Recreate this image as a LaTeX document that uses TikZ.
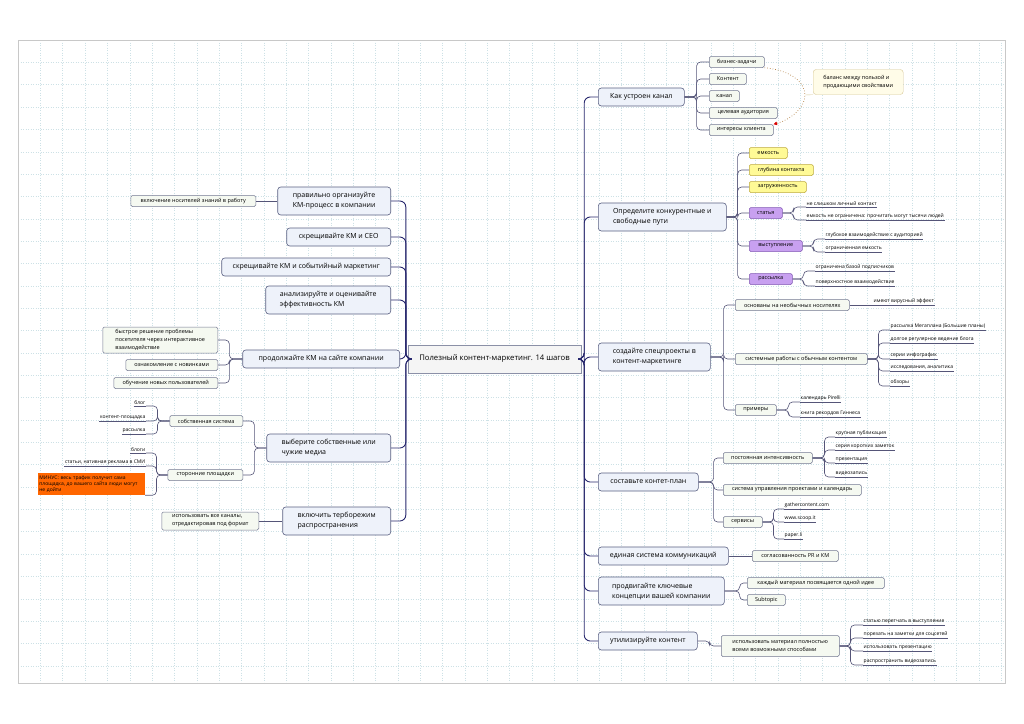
\documentclass[tikz,border=0pt]{standalone}
\usepackage{fontspec}
\setmainfont{Open Sans}
\usetikzlibrary{arrows.meta, positioning}
\definecolor{topicfill}{RGB}{238, 242, 250}
\definecolor{topicline}{RGB}{90, 96, 130}
\definecolor{subfill}{RGB}{245, 249, 241}
\definecolor{subline}{RGB}{115, 120, 145}
\definecolor{trunkcol}{RGB}{40, 40, 110}
\definecolor{conncol}{RGB}{85, 85, 120}
\definecolor{yelfill}{RGB}{255, 250, 150}
\definecolor{yelline}{RGB}{190, 170, 60}
\definecolor{purpfill}{RGB}{200, 160, 240}
\definecolor{purpline}{RGB}{130, 90, 180}
\definecolor{minusfill}{RGB}{255, 102, 0}
\definecolor{notefill}{RGB}{255, 252, 232}
\definecolor{noteline}{RGB}{215, 200, 150}
\definecolor{gridcol}{RGB}{205, 225, 230}
\definecolor{framecol}{RGB}{200, 200, 200}
\definecolor{boundcol}{RGB}{180, 130, 70}
\newcommand{\fcentre}{\fontsize{7.7}{10}\selectfont}
\newcommand{\ftopic}{\fontsize{7}{10}\selectfont}
\newcommand{\fsub}{\fontsize{5.5}{8}\selectfont}
\newcommand{\fleaf}{\fontsize{5}{6}\selectfont}

\begin{document}
\begin{tikzpicture}[x=1pt, y=-1pt,
  centre/.style={
    draw=topicline!70, fill=gray!8, font=\fcentre,
    minimum width=173pt, minimum height=28pt, inner sep=2pt
  },
  topic/.style={
    draw=topicline, fill=topicfill, rounded corners=3pt,
    font=\ftopic, align=left, anchor=west,
    minimum height=18pt, inner sep=2pt, line width=0.6pt
  },
  topicl/.style={topic, anchor=east},
  two/.style={minimum height=28pt},
  sub/.style={
    draw=subline, fill=subfill, rounded corners=1.5pt,
    font=\fsub, align=left, anchor=west,
    minimum height=11pt, inner xsep=3pt, inner ysep=1pt, line width=0.5pt
  },
  subl/.style={sub, anchor=east},
  yel/.style={sub, draw=yelline, fill=yelfill},
  purp/.style={sub, draw=purpline, fill=purpfill},
  leafline/.style={draw=conncol, line width=0.5pt},
  leaf/.style={
    font=\fleaf, inner xsep=0.5pt, inner ysep=1pt, anchor=south west,
    append after command={(\tikzlastnode.south west) edge[leafline] (\tikzlastnode.south east)}
  },
  leafl/.style={leaf, anchor=south east},
  minus/.style={
    fill=minusfill, font=\fleaf, align=left, anchor=east,
    text width=104pt, minimum height=22pt, inner sep=1.5pt
  },
  note/.style={
    draw=noteline, fill=notefill, rounded corners=3pt,
    font=\fsub, align=left, anchor=west,
    minimum width=90pt, minimum height=25pt, inner sep=2pt
  },
  trunk/.style={draw=trunkcol, line width=0.9pt, rounded corners=6pt},
  conn/.style={draw=conncol, line width=0.6pt, rounded corners=4pt},
  bound/.style={draw=boundcol, dotted, line width=0.7pt},
  gridline/.style={draw=gridcol, dotted, line width=0.5pt}
]
  \useasboundingbox (0,0) rectangle (1024,723);
  \fill[white] (0,0) rectangle (1024,723);

  % --- Grid ---
  \foreach \i in {1,...,44}
    \draw[gridline] ({18+22.35*\i},40) -- ({18+22.35*\i},683);
  \foreach \j in {1,...,28}
    \draw[gridline] (18,{40+22.35*\j}) -- (1005,{40+22.35*\j});
  \draw[framecol, line width=0.8pt] (18,40) rectangle (1005,683);

  % --- Central topic ---
  \node[centre] (main) at (494.5,359) {Полезный контент-маркетинг. 14 шагов};

  % --- Right topics ---
  \node[topic, minimum width=86pt] (kanal) at (598,97) {Как устроен канал};
  \node[topic, two, minimum width=128pt] (puti) at (598,217) {Определите конкурентные и\\свободные пути};
  \node[topic, two, minimum width=112pt] (spec) at (598,357) {создайте спецпроекты в\\контент-маркетинге};
  \node[topic, minimum width=100pt] (plan) at (598,482) {составьте контет-план};
  \node[topic, minimum width=130pt] (komm) at (598,556) {единая система коммуникаций};
  \node[topic, two, minimum width=126pt] (konc) at (598,591) {продвигайте ключевые\\концепции вашей компании};
  \node[topic, minimum width=99pt] (util) at (598,641) {утилизируйте контент};

  % --- Left topics ---
  \node[topicl, two, minimum width=113pt] (org) at (391,201) {правильно организуйте\\КМ-процесс в компании};
  \node[topicl, minimum width=104pt] (seo) at (391,237) {скрещивайте КМ и CEO};
  \node[topicl, minimum width=169pt] (sobyt) at (391,267) {скрещивайте КМ и событийный маркетинг};
  \node[topicl, two, minimum width=125pt] (anal) at (391,300) {анализируйте и оценивайте\\эффективность КМ};
  \node[topicl, minimum width=157pt] (sait) at (400,359) {продолжайте КМ на сайте компании};
  \node[topicl, two, minimum width=124pt] (media) at (391,448) {выберите собственные или\\чужие медиа};
  \node[topicl, two, minimum width=108pt] (turbo) at (391,521) {включить терборежим\\распространения};

  \foreach \t in {kanal,puti,spec,plan,komm,konc,util}
    \draw[trunk] (main.east) -- ++(3,0) |- (\t.west);
  \foreach \t in {org,seo,sobyt,anal,sait,media,turbo}
    \draw[trunk] (main.west) -- ++(-2,0) |- (\t.east);

  % --- Как устроен канал ---
  \node[sub, minimum width=55pt] (biz) at (709,62) {бизнес-задачи};
  \node[sub, minimum width=37pt] (kont) at (709,79) {Контент};
  \node[sub, minimum width=30pt] (kan) at (709,96) {канал};
  \node[sub, minimum width=68pt] (aud) at (709,113) {целевая аудитория};
  \node[sub, minimum width=64pt] (intr) at (709,130) {интересы клиента};
  \foreach \c in {biz,kont,kan,aud,intr}
    \draw[conn] (kanal.east) -- ++(12,0) |- (\c.west);

  \node[note] (note) at (813,82) {баланс между пользой и\\продающими свойствами};
  \coordinate (apex) at (805,95);
  \draw[bound, -{Triangle[length=3.5pt, width=3.5pt, color=red!85!black]}]
    (biz.south east) .. controls (790,70) and (805,82) .. (apex)
    .. controls (805,108) and (790,120) .. (intr.north east);
  \draw[draw=noteline] (apex) -- (note.south west);

  % --- Определите конкурентные и свободные пути ---
  \node[yel, minimum width=38pt] (emk) at (749,153) {емкость};
  \node[yel, minimum width=64pt] (glub) at (749,170) {глубина контакта};
  \node[yel, minimum width=57pt] (zagr) at (749,187) {загруженность};
  \node[purp, minimum width=33pt] (stat) at (749,213) {статья};
  \node[purp, minimum width=53pt] (vyst) at (749,246) {выступление};
  \node[purp, minimum width=43pt] (rass) at (749,279) {рассылка};
  \foreach \c in {emk,glub,zagr,stat,vyst,rass}
    \draw[conn] (puti.east) -- ++(11,0) |- (\c.west);

  \node[leaf] (stat1) at (806,207) {не слишком личный контакт};
  \node[leaf] (stat2) at (806,220) {емкость не ограничена: прочитать могут тысячи людей};
  \node[leaf] (vyst1) at (825,239) {глубокое взаимодействие с аудиторией};
  \node[leaf] (vyst2) at (825,252) {ограниченная емкость};
  \node[leaf] (rass1) at (815,271) {ограничена базой подписчиков};
  \node[leaf] (rass2) at (815,286) {поверхностное взаимодействие};
  \foreach \p/\c in {stat/stat1,stat/stat2,vyst/vyst1,vyst/vyst2,rass/rass1,rass/rass2}
    \draw[conn] (\p.east) -- ++(11,0) |- (\c.south west);

  % --- создайте спецпроекты ---
  \node[sub, minimum width=114pt] (neob) at (735,305) {основаны на необычных носителях};
  \node[sub, minimum width=132pt] (sist) at (735,359) {системные работы с обычным контентом};
  \node[sub, minimum width=41pt] (prim) at (735,410) {примеры};
  \foreach \c in {neob,sist,prim}
    \draw[conn] (spec.east) -- ++(13,0) |- (\c.west);

  \node[leaf] (neob1) at (873,305) {имеют вирусный эффект};
  \node[leaf] (sist1) at (890,330) {рассылка Мегаплана (Большие планы)};
  \node[leaf] (sist2) at (890,343) {долгое регулярное ведение блога};
  \node[leaf] (sist3) at (890,359) {серии инфографик};
  \node[leaf] (sist4) at (890,371) {исследования, аналитика};
  \node[leaf] (sist5) at (890,386) {обзоры};
  \node[leaf] (prim1) at (800,402) {календарь Pirelli};
  \node[leaf] (prim2) at (800,417) {книга рекордов Гиннеса};
  \draw[conn] (neob.east) -- (neob1.south west);
  \foreach \c in {sist1,sist2,sist3,sist4,sist5}
    \draw[conn] (sist.east) -- ++(11,0) |- (\c.south west);
  \foreach \c in {prim1,prim2}
    \draw[conn] (prim.east) -- ++(12,0) |- (\c.south west);

  % --- составьте контет-план ---
  \node[sub, minimum width=89pt] (post) at (723,458) {постоянная интенсивность};
  \node[sub, minimum width=138pt] (upr) at (723,490) {система управления проектами и календарь};
  \node[sub, minimum width=39pt] (serv) at (723,522) {сервисы};
  \foreach \c in {post,upr,serv}
    \draw[conn] (plan.east) -- ++(15,0) |- (\c.west);

  \node[leaf] (post1) at (835,437) {крупная публикация};
  \node[leaf] (post2) at (835,450) {серия коротких заметок};
  \node[leaf] (post3) at (835,463) {презентация};
  \node[leaf] (post4) at (835,477) {видеозапись};
  \node[leaf] (serv1) at (784,509) {gathercontent.com};
  \node[leaf] (serv2) at (784,522) {www.scoop.it};
  \node[leaf] (serv3) at (784,539) {paper.li};
  \foreach \c in {post1,post2,post3,post4}
    \draw[conn] (post.east) -- ++(12,0) |- (\c.south west);
  \foreach \c in {serv1,serv2,serv3}
    \draw[conn] (serv.east) -- ++(11,0) |- (\c.south west);

  % --- единая система / продвигайте / утилизируйте ---
  \node[sub, minimum width=86pt] (sogl) at (752,556) {согласованность PR и КМ};
  \draw[conn] (komm.east) -- (sogl.west);

  \node[sub, minimum width=137pt] (idea) at (747,583) {каждый материал посвящается одной идее};
  \node[sub, minimum width=38pt] (subt) at (747,600) {Subtopic};
  \foreach \c in {idea,subt}
    \draw[conn] (konc.east) -- ++(15,0) |- (\c.west);

  \node[sub, minimum width=118pt, minimum height=21pt] (ispm) at (721,646) {использовать материал полностью\\всеми возможными способами};
  \draw[conn] (util.east) -- ++(12,0) |- (ispm.west);
  \node[leaf] (isp1) at (863,625) {статью перетчать в выступление};
  \node[leaf] (isp2) at (863,638) {порезать на заметки для соцсетей};
  \node[leaf] (isp3) at (863,651) {использовать презентацию};
  \node[leaf] (isp4) at (863,665) {распространить видеозапись};
  \foreach \c in {isp1,isp2,isp3,isp4}
    \draw[conn] (ispm.east) -- ++(11,0) |- (\c.south west);

  % --- Left side children ---
  \node[subl, minimum width=125pt] (vkl) at (256,201) {включение носителей знаний в работу};
  \draw[conn] (org.west) -- (vkl.east);

  \node[subl, minimum width=115pt, minimum height=26pt] (bystr) at (218,340) {быстрое решение проблемы\\посетителя через интерактивное\\взаимодействие};
  \node[subl, minimum width=92pt] (ozn) at (218,365) {ознакомление с новинками};
  \node[subl, minimum width=104pt] (obuch) at (218,383) {обучение новых пользователей};
  \foreach \c in {bystr,ozn,obuch}
    \draw[conn] (sait.west) -- ++(-13,0) |- (\c.east);

  \node[subl, minimum width=73pt] (own) at (243,421) {собственная система};
  \node[subl, minimum width=75pt] (third) at (243,475) {сторонние площадки};
  \foreach \c in {own,third}
    \draw[conn] (media.west) -- ++(-12,0) |- (\c.east);

  \node[leafl] (own1) at (146,406) {блог};
  \node[leafl] (own2) at (146,421) {контент-площадка};
  \node[leafl] (own3) at (146,434) {рассылка};
  \foreach \c in {own1,own2,own3}
    \draw[conn] (own.west) -- ++(-12,0) |- (\c.south east);

  \node[leafl] (third1) at (146,453) {блоги};
  \node[leafl] (third2) at (146,466) {статьи, нативная реклама в СМИ};
  \node[minus] (minus) at (145,484) {МИНУС: весь трафик получит сама площадка, до вашего сайта люди могут не дойти};
  \foreach \c in {third1,third2}
    \draw[conn] (third.west) -- ++(-11,0) |- (\c.south east);
  \draw[conn] (third.west) -- ++(-11,0) |- (minus.south east);

  \node[subl, minimum width=97pt, minimum height=18pt] (kanaly) at (259,521) {использовать все каналы,\\отредактировав под формат};
  \draw[conn] (turbo.west) -- (kanaly.east);

\end{tikzpicture}
\end{document}
